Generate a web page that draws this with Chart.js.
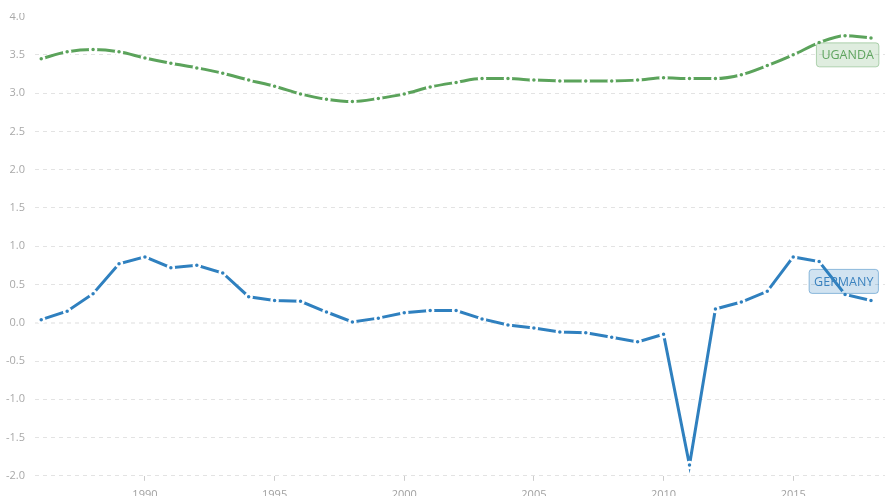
<!DOCTYPE html>
<html>
<head>
<meta charset="utf-8">
<script src="https://cdn.jsdelivr.net/npm/chart.js@4.4.1/dist/chart.umd.min.js"></script>
<style>
  html, body { margin: 0; padding: 0; background: #fff; overflow: hidden; }
  #wrap { position: relative; width: 885px; height: 508px; }
</style>
</head>
<body>
<div id="wrap"><canvas id="chart"></canvas></div>
<script>
const years = [1986, 1987, 1988, 1989, 1990, 1991, 1992, 1993, 1994, 1995, 1996,
  1997, 1998, 1999, 2000, 2001, 2002, 2003, 2004, 2005, 2006, 2007, 2008, 2009,
  2010, 2011, 2012, 2013, 2014, 2015, 2016, 2017, 2018];

const uganda = [3.45, 3.54, 3.57, 3.54, 3.46, 3.39, 3.33, 3.26, 3.17, 3.09, 2.99,
  2.92, 2.89, 2.93, 2.99, 3.08, 3.14, 3.19, 3.19, 3.17, 3.16, 3.16, 3.16, 3.17,
  3.20, 3.19, 3.19, 3.24, 3.36, 3.50, 3.66, 3.75, 3.72];

const germany = [0.04, 0.15, 0.38, 0.77, 0.86, 0.72, 0.75, 0.65, 0.34, 0.29, 0.28,
  0.14, 0.01, 0.06, 0.13, 0.16, 0.16, 0.05, -0.03, -0.07, -0.12, -0.13, -0.19, -0.25,
  -0.15, -1.86, 0.18, 0.27, 0.41, 0.86, 0.80, 0.37, 0.29];

const xTicks = [1990, 1995, 2000, 2005, 2010, 2015];

// series tags, anchored in data units (x = year, y = value of box centre)
const tags = [
  { text: 'UGANDA', x: 2017.1, y: 3.50, color: '#5fa55f', fill: 'rgba(95,165,95,0.2)', border: 'rgba(95,165,95,0.45)' },
  { text: 'GERMANY', x: 2016.95, y: 0.54, color: '#3a82bf', fill: 'rgba(47,128,192,0.22)', border: 'rgba(47,128,192,0.5)' }
];

const GREEN = '#5ba35b';
const BLUE = '#2f80bf';

function toPoints(vals) {
  return years.map((y, i) => ({ x: y, y: vals[i] }));
}

const tagPlugin = {
  id: 'tags',
  afterDatasetsDraw(chart) {
    const ctx = chart.ctx;
    const xs = chart.scales.x, ys = chart.scales.y;
    ctx.save();
    ctx.font = '12.5px "Open Sans", sans-serif';
    tags.forEach(t => {
      const cx = xs.getPixelForValue(t.x);
      const cy = ys.getPixelForValue(t.y);
      const w = ctx.measureText(t.text).width + 10;
      const h = 24;
      ctx.beginPath();
      ctx.roundRect(cx - w / 2, cy - h / 2, w, h, 3);
      ctx.fillStyle = t.fill;
      ctx.fill();
      ctx.strokeStyle = t.border;
      ctx.lineWidth = 1;
      ctx.stroke();
      ctx.fillStyle = t.color;
      ctx.textAlign = 'center';
      ctx.textBaseline = 'middle';
      ctx.fillText(t.text, cx, cy + 1);
    });
    ctx.restore();
  },
  afterDraw(chart) {
    // the original picture is cut off just above the top label
    chart.ctx.clearRect(0, 0, chart.width, 13);
  }
};

new Chart(document.getElementById('chart'), {
  type: 'line',
  data: {
    datasets: [
      {
        label: 'Uganda',
        data: toPoints(uganda),
        borderColor: GREEN,
        borderWidth: 3,
        cubicInterpolationMode: 'monotone',
        pointRadius: 3,
        pointBorderWidth: 2.5,
        pointBackgroundColor: GREEN,
        pointBorderColor: '#fff'
      },
      {
        label: 'Germany',
        data: toPoints(germany),
        borderColor: BLUE,
        borderWidth: 3,
        tension: 0,
        pointRadius: 3,
        pointBorderWidth: 2.5,
        pointBackgroundColor: BLUE,
        pointBorderColor: '#fff'
      }
    ]
  },
  options: {
    responsive: true,
    maintainAspectRatio: false,
    animation: false,
    layout: { autoPadding: false, padding: { left: 0, right: 0, top: 8, bottom: 0 } },
    plugins: {
      legend: { display: false },
      tooltip: { enabled: false }
    },
    scales: {
      x: {
        type: 'linear',
        min: 1985.76,
        max: 2018.54,
        afterBuildTicks: scale => { scale.ticks = xTicks.map(v => ({ value: v })); },
        afterFit: scale => { scale.paddingLeft = 0; scale.paddingRight = 0; },
        grid: {
          drawOnChartArea: false,
          drawTicks: true,
          tickLength: 5,
          tickColor: '#cccccc'
        },
        border: { display: false },
        ticks: {
          color: '#a0a0a0',
          padding: 7,
          font: { family: '"Open Sans", sans-serif', size: 11 },
          callback: v => String(v)
        }
      },
      y: {
        min: -2,
        max: 4,
        afterFit: scale => { scale.width = 35; },
        ticks: {
          stepSize: 0.5,
          color: '#a8a8a8',
          padding: 10,
          font: { family: '"Open Sans", sans-serif', size: 11 },
          callback: v => v.toFixed(1)
        },
        border: { display: false, dash: [4, 4] },
        grid: {
          drawTicks: false,
          lineWidth: ctx => (ctx.tick && ctx.tick.value === 0 ? 2 : 1),
          color: ctx => {
            if (!ctx.tick) return '#e6e6e6';
            if (ctx.tick.value === 4) return 'rgba(0,0,0,0)';
            return ctx.tick.value === 0 ? '#eeeeee' : '#e3e3e3';
          }
        }
      }
    }
  },
  plugins: [tagPlugin]
});
</script>
</body>
</html>
